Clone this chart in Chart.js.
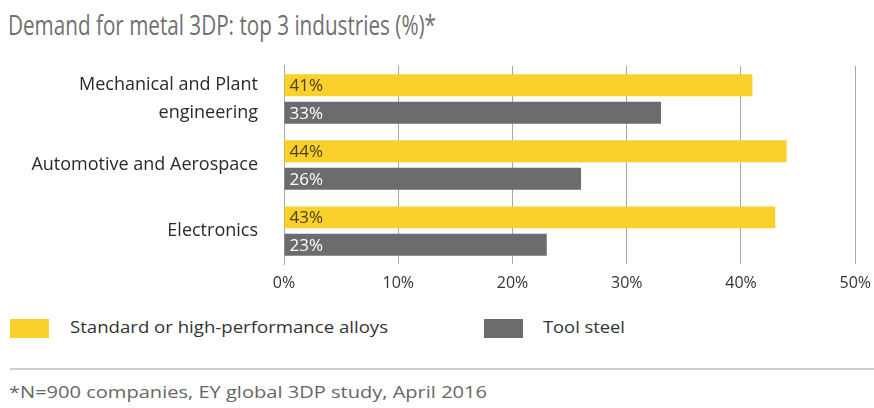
<!DOCTYPE html>
<html>
<head>
<meta charset="utf-8">
<script src="https://cdn.jsdelivr.net/npm/chart.js@4/dist/chart.umd.min.js"></script>
<style>
  html, body { margin: 0; padding: 0; background: #fff; }
  body { width: 874px; height: 408px; position: relative; overflow: hidden; font-family: "Open Sans", sans-serif; }
  .title { position: absolute; left: 8px; top: 6px; font-size: 27px; color: #707070; white-space: nowrap; transform-origin: left top; }
  #wrap { position: absolute; left: 0; top: 34px; width: 881px; height: 276px; }
  .legend { position: absolute; top: 317px; height: 22px; font-size: 16px; color: #333; white-space: nowrap; }
  .legend .sw { position: absolute; left: 0; top: 2px; width: 39px; height: 19px; }
  .legend .tx { position: absolute; top: -1px; transform-origin: left top; }
  .rule { position: absolute; left: 10px; right: 0; top: 368px; height: 2px; background: #cfcfcf; }
  .note { position: absolute; left: 9px; top: 380px; font-size: 17px; color: #666; white-space: nowrap; transform-origin: left top; }
</style>
</head>
<body>
<div class="title" id="title" data-w="428">Demand for metal 3DP: top 3 industries (%)*</div>
<div id="wrap"><canvas id="c"></canvas></div>
<div class="legend" id="lg1" style="left:10px"><div class="sw" id="sw1"></div><div class="tx" data-w="318" style="left:60px" id="lt1"></div></div>
<div class="legend" id="lg2" style="left:484px"><div class="sw" id="sw2"></div><div class="tx" data-w="82" style="left:59px" id="lt2"></div></div>
<div class="rule"></div>
<div class="note" data-w="478">*N=900 companies, EY global 3DP study, April 2016</div>
<script>
// Industries (multi-line labels as arrays)
const industries = [["Mechanical and Plant", "engineering"], "Automotive and Aerospace", "Electronics"];
// Share of companies (%) by material type
const alloysValues = [41, 44, 43];
const toolSteelValues = [33, 26, 23];
const seriesNames = ["Standard or high-performance alloys", "Tool steel"];
const xTicks = [0, 10, 20, 30, 40, 50];

const YELLOW = "#fad02c";
const GREY = "#6c6c6e";
const FONT = "'Open Sans', sans-serif";

document.getElementById("sw1").style.background = YELLOW;
document.getElementById("sw2").style.background = GREY;
document.getElementById("lt1").textContent = seriesNames[0];
document.getElementById("lt2").textContent = seriesNames[1];

// squeeze text horizontally to its set width
document.querySelectorAll("[data-w]").forEach(el => {
  const w = el.getBoundingClientRect().width;
  const target = +el.dataset.w;
  el.style.transform = "scaleX(" + (target / w) + ")";
});

// value labels written inside the start of each bar
const barLabels = {
  id: "barLabels",
  afterDatasetsDraw(chart) {
    const ctx = chart.ctx;
    ctx.save();
    ctx.font = "17px " + FONT;
    ctx.textBaseline = "middle";
    ctx.textAlign = "left";
    chart.data.datasets.forEach((ds, i) => {
      const meta = chart.getDatasetMeta(i);
      meta.data.forEach((bar, j) => {
        ctx.fillStyle = i === 0 ? "#463f22" : "#ffffff";
        ctx.fillText(ds.data[j] + "%", bar.base + 5, bar.y + 1);
      });
    });
    ctx.restore();
  }
};

new Chart(document.getElementById("c"), {
  type: "bar",
  data: {
    labels: industries,
    datasets: [
      { label: seriesNames[0], data: alloysValues, backgroundColor: YELLOW },
      { label: seriesNames[1], data: toolSteelValues, backgroundColor: GREY }
    ]
  },
  options: {
    indexAxis: "y",
    responsive: true,
    maintainAspectRatio: false,
    animation: false,
    layout: { padding: { top: 0, right: 12, left: 0, bottom: 0 } },
    datasets: { bar: { categoryPercentage: 0.83, barPercentage: 0.8 } },
    plugins: { legend: { display: false }, tooltip: { enabled: false }, title: { display: false } },
    scales: {
      x: {
        min: 0, max: 50,
        afterBuildTicks(scale) { scale.ticks = xTicks.map(v => ({ value: v })); },
        ticks: { callback: v => v + "%", color: "#333", font: { family: FONT, size: 16 }, padding: 10 },
        grid: { color: "#a8a8a8", lineWidth: 1, tickLength: 0, drawOnChartArea: true },
        border: { display: false },
        afterFit(scale) { scale.height = 42; }
      },
      y: {
        ticks: { color: "#2a2a2a", font: { family: FONT, size: 18, lineHeight: 1.55 }, padding: 18 },
        grid: { display: false },
        border: { display: true, color: "#a8a8a8", width: 1 },
        afterFit(scale) { scale.width = 284; }
      }
    }
  },
  plugins: [barLabels]
});
</script>
</body>
</html>
